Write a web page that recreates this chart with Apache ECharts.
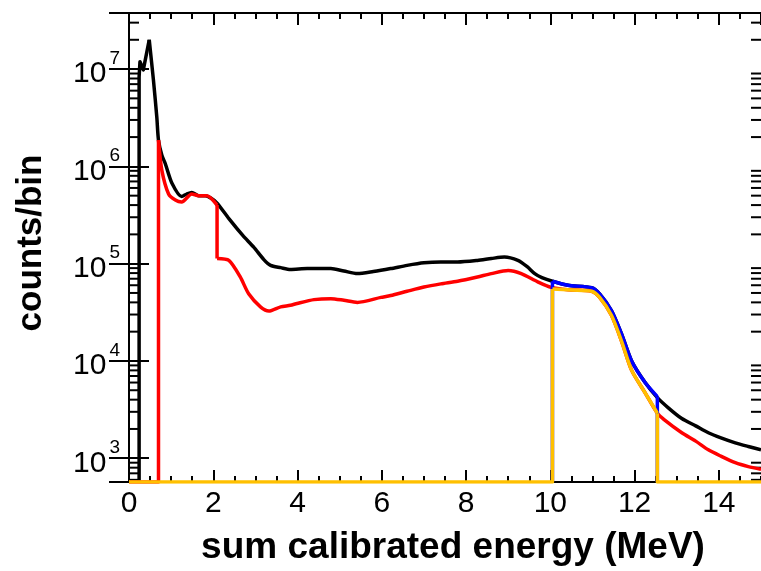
<!DOCTYPE html>
<html>
<head>
<meta charset="utf-8">
<script src="https://cdn.jsdelivr.net/npm/echarts@6/dist/echarts.min.js"></script>
<style>html,body{margin:0;padding:0;background:#fff}#c{width:761px;height:571px}</style>
</head>
<body>
<div id="c"></div>
<script>
// Axis ranges
const X_MIN = 0, X_MAX = 15;
const Y_MIN = 570, Y_MAX = 3.77e7;
const ZERO = Y_MIN; // empty bins are drawn on the floor of the log axis

// Minor tick values on the log axis
const yMinorTicks = [600, 700, 800, 900,
  2000, 3000, 4000, 5000, 6000, 7000, 8000, 9000,
  2e4, 3e4, 4e4, 5e4, 6e4, 7e4, 8e4, 9e4,
  2e5, 3e5, 4e5, 5e5, 6e5, 7e5, 8e5, 9e5,
  2e6, 3e6, 4e6, 5e6, 6e6, 7e6, 8e6, 9e6,
  2e7, 3e7];

// Black: total (segments split at vertical edges)
const blackRise = [[0.24, ZERO], [0.24, 8.3e6], [0.26, 1.19e7], [0.34, 9.8e6], [0.48, 2.0e7]];
const blackData = [
  [0.48, 2.0e7], [0.58, 7.7e6],
  [0.66, 3.2e6], [0.70, 1.86e6], [0.78, 1.3e6], [0.86, 1.07e6], [1.02, 6.7e5], [1.25, 4.9e5],
  [1.37, 5.2e5], [1.49, 5.4e5], [1.65, 5.0e5], [1.81, 5.0e5], [1.95, 4.7e5], [2.09, 4.2e5],
  [2.40, 2.8e5], [2.70, 1.95e5], [2.96, 1.48e5], [3.20, 1.1e5], [3.36, 9.6e4], [3.6, 9.1e4],
  [3.83, 8.7e4], [4.23, 8.9e4], [4.79, 8.9e4], [5.1, 8.4e4], [5.42, 7.9e4], [5.8, 8.3e4],
  [6.21, 8.9e4], [6.6, 9.6e4], [7.0, 1.02e5], [7.4, 1.04e5], [7.8, 1.04e5], [8.27, 1.08e5],
  [8.6, 1.13e5], [8.91, 1.17e5], [9.23, 1.08e5], [9.45, 9.3e4], [9.63, 7.9e4], [9.8, 7.2e4],
  [10.05, 6.6e4], [10.42, 6.0e4], [10.98, 5.66e4], [11.17, 4.9e4], [11.45, 3.3e4], [11.69, 1.9e4],
  [11.93, 1.0e4], [12.25, 6.0e3], [12.54, 4.2e3], [12.8, 3.3e3], [13.12, 2.56e3], [13.45, 2.15e3],
  [13.75, 1.83e3], [14.05, 1.62e3], [14.39, 1.44e3], [14.7, 1.32e3], [15.0, 1.22e3]
];

// Red
const redFloor = [[0, ZERO], [0.70, ZERO], [0.70, 1.86e6]];
const redPartA = [
  [0.70, 1.86e6], [0.78, 9.1e5], [0.94, 5.2e5], [1.10, 4.5e5],
  [1.25, 4.3e5], [1.49, 5.2e5], [1.65, 5.0e5], [1.85, 5.0e5], [2.09, 4.0e5]
];
const redStep = [[2.09, 4.0e5], [2.09, 1.13e5]];
const redPartB = [
  [2.09, 1.13e5], [2.37, 1.08e5], [2.64, 7.3e4], [2.84, 4.9e4], [3.12, 3.6e4], [3.32, 3.26e4], [3.6, 3.6e4],
  [3.83, 3.73e4], [3.99, 3.9e4], [4.39, 4.27e4], [4.79, 4.37e4], [5.1, 4.2e4], [5.42, 4.0e4],
  [5.98, 4.5e4], [6.21, 4.7e4], [6.6, 5.2e4], [7.0, 5.75e4], [7.4, 6.2e4], [7.8, 6.6e4],
  [8.27, 7.3e4], [8.6, 7.9e4], [9.0, 8.5e4], [9.31, 7.9e4], [9.7, 6.5e4], [10.02, 5.7e4],
  [10.42, 5.4e4], [10.98, 5.2e4], [11.17, 4.5e4], [11.45, 2.95e4], [11.69, 1.6e4], [11.93, 8.0e3],
  [12.25, 4.7e3], [12.54, 2.9e3], [12.7, 2.5e3], [13.12, 1.83e3], [13.45, 1.5e3], [13.75, 1.22e3],
  [14.05, 1.05e3], [14.39, 9.0e2], [14.7, 8.2e2], [15.0, 7.7e2]
];

// Blue
const blueEdges = [[10.05, ZERO], [10.05, 6.6e4], null, [12.54, 4.3e3], [12.54, ZERO]];
const blueData = [
  [10.05, 6.6e4], [10.42, 6.0e4], [10.98, 5.66e4], [11.17, 4.9e4], [11.45, 3.3e4],
  [11.69, 1.9e4], [11.93, 1.0e4], [12.25, 6.0e3], [12.54, 4.3e3]
];

// Yellow
const yellowEdges = [[0, ZERO], [10.05, ZERO], [10.05, 5.5e4], null, [12.54, 2.9e3], [12.54, ZERO], [15, ZERO]];
const yellowData = [
  [10.05, 5.5e4], [10.5, 5.35e4], [10.98, 5.2e4], [11.17, 4.5e4],
  [11.45, 2.95e4], [11.69, 1.6e4], [11.93, 8.0e3], [12.25, 4.7e3], [12.54, 2.9e3]
];

const FONT = "'Liberation Sans', Arial, Helvetica, sans-serif";
const chart = echarts.init(document.getElementById('c'), null, {renderer: 'canvas'});

function logLabel(v) {
  const e = Math.round(Math.log10(v));
  if (Math.abs(Math.log10(v) - e) > 1e-6) return '';
  return '{b|10}{s|' + e + '}';
}

const xCommon = {type: 'value', min: X_MIN, max: X_MAX, gridIndex: 0, splitLine: {show: false}};
const yCommon = {type: 'log', logBase: 10, min: Y_MIN, max: Y_MAX, splitLine: {show: false}};

const BLACK = '#000000', RED = '#ff0000', BLUE = '#0000ff', YELLOW = '#ffc000';
function line(data, color, z, smooth) {
  return {type: 'line', data: data, xAxisIndex: 0, yAxisIndex: 0, symbol: 'none',
    smooth: smooth ? 0.25 : false, connectNulls: false,
    lineStyle: {color: color, width: 3.5, cap: 'butt', join: 'round'}, itemStyle: {color: color},
    z: z, clip: true, animation: false, silent: true};
}

chart.setOption({
  animation: false,
  backgroundColor: '#fff',
  grid: {left: 129, right: 0, top: 13, bottom: 89, containLabel: false},
  xAxis: [
    Object.assign({}, xCommon, {position: 'bottom', interval: 2,
      axisLine: {lineStyle: {color: '#000', width: 2}},
      axisTick: {inside: true, length: 12, lineStyle: {color: '#000', width: 2}},
      axisLabel: {color: '#000', fontSize: 30, fontFamily: FONT, margin: 7, showMaxLabel: false}}),
    Object.assign({}, xCommon, {position: 'bottom', interval: 0.5,
      axisLine: {show: false},
      axisTick: {inside: true, length: 6, lineStyle: {color: '#000', width: 2}},
      axisLabel: {show: false}}),
    Object.assign({}, xCommon, {position: 'top', interval: 2,
      axisLine: {lineStyle: {color: '#000', width: 2}},
      axisTick: {inside: true, length: 12, lineStyle: {color: '#000', width: 2}},
      axisLabel: {show: false}}),
    Object.assign({}, xCommon, {position: 'top', interval: 0.5,
      axisLine: {show: false},
      axisTick: {inside: true, length: 6, lineStyle: {color: '#000', width: 2}},
      axisLabel: {show: false}})
  ],
  yAxis: [
    Object.assign({}, yCommon, {position: 'left',
      axisLine: {lineStyle: {color: '#000', width: 2}},
      axisTick: {inside: true, length: 20, lineStyle: {color: '#000', width: 2}},
      axisLabel: {formatter: logLabel, margin: 9, showMinLabel: false, showMaxLabel: false,
        rich: {
          b: {fontSize: 30, fontFamily: FONT, color: '#000', verticalAlign: 'bottom', lineHeight: 40},
          s: {fontSize: 19, fontFamily: FONT, color: '#000', verticalAlign: 'top', lineHeight: 40, padding: [0, 0, 0, 3]}
        }}}),
    Object.assign({}, yCommon, {position: 'right',
      axisLine: {lineStyle: {color: '#000', width: 2}},
      axisTick: {inside: true, length: 20, lineStyle: {color: '#000', width: 2}},
      axisLabel: {show: false}})
  ],
  series: [
    {
      type: 'custom', xAxisIndex: 0, yAxisIndex: 0, silent: true, z: 1, clip: false,
      data: yMinorTicks.map(v => [X_MIN, v]),
      renderItem: function (params, api) {
        const y = api.coord([X_MIN, api.value(1)])[1];
        const cs = params.coordSys;
        return {type: 'group', children: [
          {type: 'line', shape: {x1: cs.x, y1: y, x2: cs.x + 10, y2: y}, style: {stroke: '#000', lineWidth: 2}},
          {type: 'line', shape: {x1: cs.x + cs.width - 10, y1: y, x2: cs.x + cs.width, y2: y}, style: {stroke: '#000', lineWidth: 2}}
        ]};
      }
    },
    line(blackRise, BLACK, 3, false),
    line(blackData, BLACK, 3, true),
    line(redFloor, RED, 4, false),
    line(redPartA, RED, 4, true),
    line(redStep, RED, 4, false),
    line(redPartB, RED, 4, true),
    line(blueEdges, BLUE, 5, false),
    line(blueData, BLUE, 5, true),
    line(yellowEdges, YELLOW, 6, false),
    line(yellowData, YELLOW, 6, true)
  ],
  graphic: [
    {type: 'text', x: 453, y: 548, z: 10,
      style: {text: 'sum calibrated energy (MeV)', font: 'bold 37px ' + FONT, fill: '#000',
        textAlign: 'center', textVerticalAlign: 'middle'}},
    {type: 'text', x: 31, y: 243, rotation: Math.PI / 2, z: 10,
      style: {text: 'counts/bin', font: 'bold 35px ' + FONT, fill: '#000',
        textAlign: 'center', textVerticalAlign: 'middle'}}
  ]
});
</script>
</body>
</html>
